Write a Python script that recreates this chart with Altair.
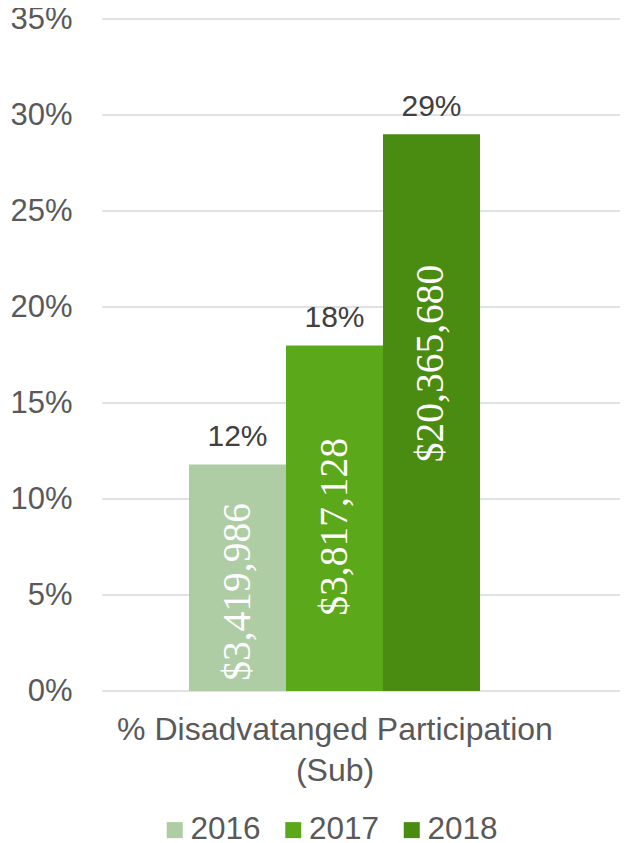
import altair as alt
import pandas as pd

years = ["2016", "2017", "2018"]
pct_values = [0.118, 0.18, 0.29]
pct_labels = ["12%", "18%", "29%"]
dollar_labels = ["$3,419,986", "$3,817,128", "$20,365,680"]
dollar_label_anchor = [0.0516, 0.0855, 0.1706]
colors = ["#AECDA4", "#5BA81B", "#4A8B11"]
category = "% Disadvatanged Participation (Sub)"
y_ticks = [0, 0.05, 0.10, 0.15, 0.20, 0.25, 0.30, 0.35]

df = pd.DataFrame({
    "cat": [category] * 3,
    "year": years,
    "pct": pct_values,
    "pct_label": pct_labels,
    "dollar": dollar_labels,
    "anchor": dollar_label_anchor,
})
grid_df = pd.DataFrame({"t": y_ticks})

FONT = "Liberation Sans"
SERIF = "Liberation Serif"
W, H = 465, 672
PAD_L, PAD_T, PAD_R, PAD_B = 94, 11, 53, 152

y_scale = alt.Scale(domain=[0, 0.35], nice=False)
x_enc = alt.X("cat:N", scale=alt.Scale(paddingOuter=0.299, paddingInner=0),
              axis=alt.Axis(labels=False, ticks=False, domain=False,
                            title=["% Disadvatanged Participation", "(Sub)"],
                            titleFont=FONT, titleFontSize=32, titleFontWeight="normal",
                            titleColor="#595959", titlePadding=23, titleLineHeight=41))
xoff = alt.XOffset("year:N", scale=alt.Scale(paddingInner=0, paddingOuter=0))

grid = alt.Chart(grid_df).mark_rule(color="#d9d9d9", strokeWidth=1.5).encode(
    y=alt.Y("t:Q", scale=y_scale),
    x=alt.value(0),
    x2=alt.value(W + PAD_R),
)

bars = alt.Chart(df).mark_bar().encode(
    x=x_enc,
    xOffset=xoff,
    y=alt.Y("pct:Q", scale=y_scale,
            axis=alt.Axis(values=y_ticks, format=".0%", grid=False, ticks=False, domain=False,
                          labelFont=FONT, labelFontSize=31, labelColor="#595959",
                          labelPadding=30, title=None)),
    color=alt.Color("year:N", scale=alt.Scale(domain=years, range=colors),
                    legend=alt.Legend(title=None, orient="none", direction="horizontal",
                                      legendX=57, legendY=795,
                                      symbolType="square", symbolSize=256, symbolStrokeWidth=0,
                                      symbolOpacity=1,
                                      labelFont=FONT, labelFontSize=31.5, labelColor="#595959",
                                      labelOffset=0, columnPadding=16.5, padding=0)),
)

top_labels = alt.Chart(df).mark_text(font=FONT, fontSize=30, color="#404040",
                                     baseline="alphabetic", dy=-18).encode(
    x=alt.X("cat:N"),
    xOffset=alt.XOffset("year:N"),
    y=alt.Y("pct:Q", scale=y_scale),
    text="pct_label:N",
)

inner_labels = alt.Chart(df).mark_text(font=SERIF, fontSize=39.5, color="white",
                                       angle=270, align="center", baseline="middle").encode(
    x=alt.X("cat:N"),
    xOffset=alt.XOffset("year:N"),
    y=alt.Y("anchor:Q", scale=y_scale),
    text="dollar:N",
)

chart = alt.layer(grid, bars, top_labels, inner_labels).properties(
    width=W, height=H,
    autosize=alt.AutoSizeParams(type="none"),
    padding={"left": PAD_L, "top": PAD_T, "right": PAD_R, "bottom": PAD_B},
).configure_view(stroke=None)

chart.save("out.html", embed_options={"renderer": "svg", "actions": False})
